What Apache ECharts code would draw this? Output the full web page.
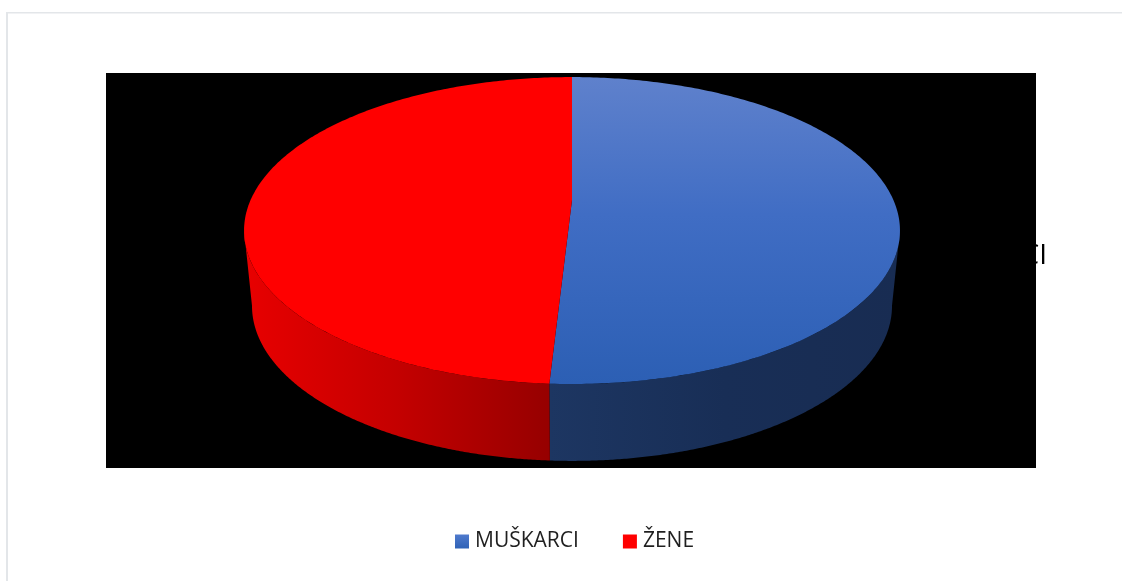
<!DOCTYPE html>
<html>
<head>
<meta charset="utf-8">
<style>html,body{margin:0;padding:0;background:#fff}#c{width:1122px;height:581px}</style>
<script src="https://cdn.jsdelivr.net/npm/echarts@6/dist/echarts.min.js"></script>
</head>
<body>
<div id="c"></div>
<script>
const categories = ['MUŠKARCI', 'ŽENE'];
const shares = [50.9, 49.1];

const FONT = '"Open Sans", sans-serif';
const total = shares.reduce((a, b) => a + b, 0);
const grad = (x2, y2, stops) => ({type: 'linear', x: 0, y: 0, x2, y2, colorStops: stops.map(([offset, color]) => ({offset, color}))});
const topFill = [
  grad(0, 1, [[0, '#5f81cc'], [0.45, '#406dc4'], [1, '#2c5fb4']]),
  '#ff0000'
];
const wallFill = [
  grad(1, 0, [[0, '#1d3662'], [0.5, '#182e56'], [1, '#182c52']]),
  grad(1, 0, [[0, '#e80000'], [0.5, '#c40000'], [1, '#960000']])
];
const legendFill = [grad(0, 1, [[0, '#4f7acd'], [1, '#2f62b6']]), '#ff0000'];

// perspective projection of the pie's round top and bottom faces
const K = 0.199;
const TOP = {x0: 572, y0: 200, a: 321.4, b: 147.4};
const BOTTOM = {x0: 572, y0: 275, a: 313.6, b: 148.9};
const project = (f, t) => {
  const u = Math.sin(t), v = Math.cos(t), w = 1 + K * v;
  return [f.x0 + f.a * u / w, f.y0 - f.b * v / w];
};
const arc = (f, from, to) => {
  const n = 240, pts = [];
  for (let i = 0; i <= n; i++) pts.push(project(f, from + (to - from) * i / n));
  return pts;
};
const SIDE_RIGHT = Math.PI - Math.asin(Math.sqrt(1 - K * K));
const SIDE_LEFT = 2 * Math.PI - SIDE_RIGHT;

function sliceRenderer(index) {
  return function (params, api) {
    const before = shares.slice(0, index).reduce((a, b) => a + b, 0);
    const start = before / total * 2 * Math.PI;
    const end = start + api.value(0) / total * 2 * Math.PI;
    const wallFrom = Math.max(start, SIDE_RIGHT);
    const wallTo = Math.min(end, SIDE_LEFT);
    const children = [];
    children.push({
      type: 'polygon',
      shape: {points: arc(TOP, wallFrom, wallTo).concat(arc(BOTTOM, wallFrom, wallTo).reverse())},
      style: {fill: wallFill[index]}
    });
    children.push({
      type: 'polygon',
      shape: {points: [[TOP.x0, TOP.y0]].concat(arc(TOP, start, end))},
      style: {fill: topFill[index]}
    });
    if (index === 0) {
      children.push({
        type: 'text',
        style: {x: 1047, y: 256, text: categories[0], align: 'right', verticalAlign: 'middle',
                font: '28px ' + FONT, fill: '#000000'}
      });
    }
    return {type: 'group', children};
  };
}

const chart = echarts.init(document.getElementById('c'), null, {renderer: 'canvas'});
chart.setOption({
  animation: false,
  backgroundColor: '#ffffff',
  legend: {
    data: categories,
    left: 450, top: 526,
    itemWidth: 14, itemHeight: 14, itemGap: 44,
    icon: 'rect',
    textStyle: {fontFamily: FONT, fontSize: 21, color: '#1f1f1f', padding: [0, 0, 0, 1]}
  },
  graphic: [
    {type: 'rect', z: 0, shape: {x: 106, y: 73, width: 930, height: 395}, style: {fill: '#000000'}},
    {type: 'rect', z: 0, shape: {x: 6, y: 12, width: 1116, height: 1.5}, style: {fill: '#e3e6e9'}},
    {type: 'rect', z: 0, shape: {x: 6, y: 12, width: 2, height: 569}, style: {fill: '#e3e6e9'}}
  ],
  series: categories.map((name, i) => ({
    type: 'custom',
    name,
    coordinateSystem: 'none',
    silent: true,
    itemStyle: {color: legendFill[i]},
    renderItem: sliceRenderer(i),
    data: [[shares[i]]]
  }))
});
</script>
</body>
</html>
